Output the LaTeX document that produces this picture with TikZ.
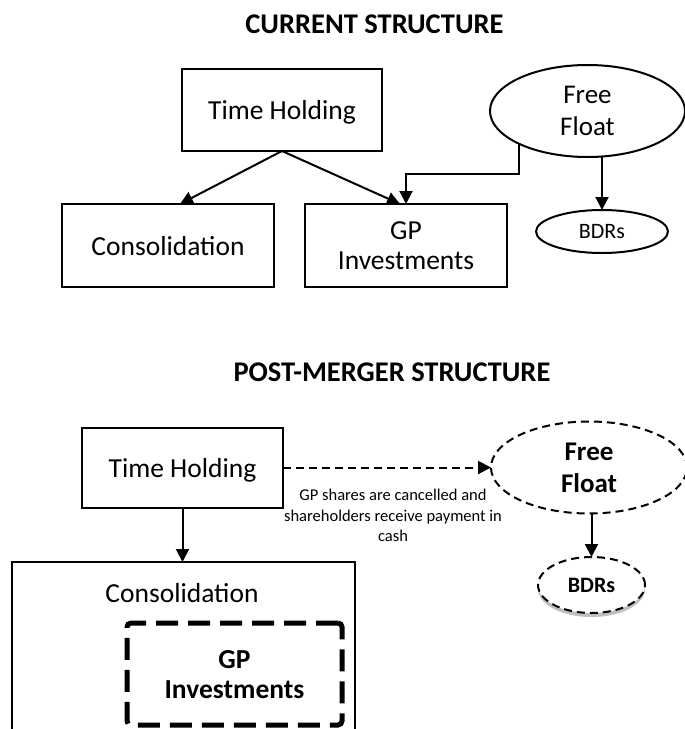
\documentclass[tikz,border=0pt]{standalone}
\usepackage{fontspec}
\setmainfont{Carlito}
\usetikzlibrary{arrows.meta,shapes.geometric,calc,shadows}
\begin{document}
\begin{tikzpicture}[x=1pt,y=-1pt,
  title/.style={anchor=base,inner sep=0pt,font=\bfseries\fontsize{28.5}{32}\selectfont},
  box/.style={draw,line width=2pt,rectangle,inner sep=0pt,outer sep=0pt,align=center,text depth=0pt,font=\fontsize{27.5}{30}\selectfont},
  oval/.style={draw,line width=2pt,ellipse,inner sep=0pt,outer sep=0pt,align=center,text depth=0pt,fill=white},
  arr/.style={line width=2pt,-{Triangle[length=13pt,width=13pt]}},
  dsh/.style={dash pattern=on 8pt off 5pt},
  thickdash/.style={draw,line width=5pt,dash pattern=on 22pt off 10pt,rounded corners=4pt}]
\useasboundingbox (0,0) rectangle (685,729);
\clip (0,0) rectangle (685,729);

% ---------- current structure ----------
\node[title] (t1) at (374.5,33) {CURRENT STRUCTURE};
\node[box,minimum width=200pt,minimum height=82pt] (th1) at (282,110) {Time Holding};
\node[box,minimum width=212pt,minimum height=83pt] (cons1) at (168,245.5) {Consolidation};
\node[box,minimum width=202pt,minimum height=83pt] (gp1) at (406,245.5) {GP\\Investments};
\node[oval,minimum width=195pt,minimum height=92pt,font=\fontsize{27}{32}\selectfont] (ff1) at (587.5,111) {Free\\Float};
\node[oval,minimum width=132pt,minimum height=43pt,font=\fontsize{22}{26}\selectfont] (bdr1) at (602,231.5) {BDRs};

\draw[arr] (th1.south) -- ($(cons1.north)+(12,0)$);
\draw[arr] (th1.south) -- ($(gp1.north)+(-6,0)$);
\draw[arr] (ff1.south west) -- ($(ff1.south west)+(0,30)$) -| (gp1.north);
\draw[arr] (bdr1.north |- ff1.south) -- (bdr1.north);

% ---------- post-merger structure ----------
\node[title] (t2) at (392,381.7) {POST-MERGER STRUCTURE};
\node[box,minimum width=201pt,minimum height=80pt] (th2) at (182.5,467.5) {Time Holding};
\node[oval,dsh,minimum width=196pt,minimum height=92pt,font=\bfseries\fontsize{27}{32}\selectfont] (ff2) at (589,467.5) {Free\\Float};
\draw[arr,dsh] (th2.east) -- (ff2.west);
\node[anchor=north,inner sep=0pt,align=center,font=\fontsize{16.5}{20.5}\selectfont] (note) at (393,489) {GP shares are cancelled and\\shareholders receive payment in\\cash};
\node[oval,dsh,minimum width=107pt,minimum height=56pt,font=\bfseries\fontsize{22}{26}\selectfont,
      drop shadow={shadow xshift=0pt,shadow yshift=-4pt,opacity=0.25,fill=black}] (bdr2) at (591.5,585) {BDRs};
\draw[arr] (bdr2.north |- ff2.south) -- (bdr2.north);

\node[draw,line width=2pt,inner sep=0pt,outer sep=0pt,minimum width=343pt,minimum height=240pt] (cons2) at (183.5,682) {};
\node[anchor=base,inner sep=0pt,font=\fontsize{27.5}{30}\selectfont] (cons2t) at (182,602) {Consolidation};
\draw[arr] (th2.south) -- (th2.south |- cons2.north);
\node[thickdash,inner sep=0pt,minimum width=215pt,minimum height=102pt,align=center,text depth=0pt,font=\bfseries\fontsize{27.5}{30}\selectfont] (gp2) at (234.5,674) {GP\\Investments};
\end{tikzpicture}
\end{document}
